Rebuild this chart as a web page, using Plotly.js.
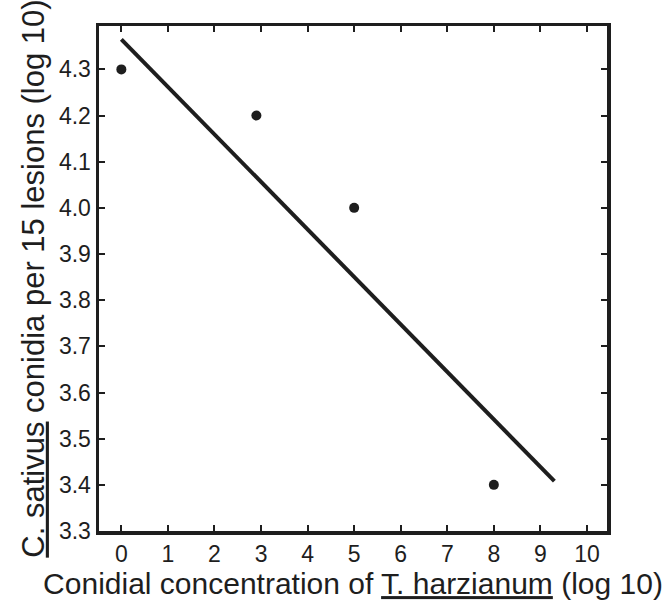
<!DOCTYPE html>
<html>
<head>
<meta charset="utf-8">
<script src="https://cdn.plot.ly/plotly-3.0.1.min.js"></script>
<style>html,body{margin:0;padding:0;background:#fff;}#chart{width:667px;height:601px;}</style>
</head>
<body>
<div id="chart"></div>
<script>
// Observed points
var concentration = [0, 2.9, 5, 8];
var conidia = [4.3, 4.2, 4.0, 3.4];
// Fitted line end points
var fitX = [0, 9.3];
var fitY = [4.365, 3.408];
// Tick labels
var xTicks = [0, 1, 2, 3, 4, 5, 6, 7, 8, 9, 10];
var yTicks = [3.3, 3.4, 3.5, 3.6, 3.7, 3.8, 3.9, 4.0, 4.1, 4.2, 4.3];

var ink = '#1e1e1e';
var font = 'Liberation Sans, Arial, Helvetica, sans-serif';

var traces = [
  {x: fitX, y: fitY, mode: 'lines', line: {color: ink, width: 4}, hoverinfo: 'skip'},
  {x: concentration, y: conidia, mode: 'markers', marker: {color: ink, size: 10}}
];

var layout = {
  width: 667, height: 601,
  margin: {l: 99, r: 60, t: 26, b: 70},
  showlegend: false,
  paper_bgcolor: '#fff', plot_bgcolor: '#fff',
  font: {family: font, color: ink},
  xaxis: {
    range: [-0.48, 10.43],
    tickvals: xTicks,
    ticktext: xTicks.map(String),
    ticks: 'inside', ticklen: 6, tickwidth: 2, tickcolor: ink,
    showline: true, linewidth: 3.5, linecolor: ink, mirror: 'ticks',
    showgrid: false, zeroline: false,
    tickfont: {size: 23, family: font, color: ink},
    title: {text: 'Conidial concentration of <u>T. harzianum</u> (log 10)', font: {size: 30, family: font, color: ink}, standoff: 4}
  },
  yaxis: {
    range: [3.3, 4.394],
    tickvals: yTicks,
    ticktext: yTicks.map(function(v){return v.toFixed(1);}),
    ticks: 'inside', ticklen: 6, tickwidth: 2, tickcolor: ink,
    showline: true, linewidth: 3.5, linecolor: ink, mirror: 'ticks',
    showgrid: false, zeroline: false,
    tickfont: {size: 23, family: font, color: ink},
    title: {text: '<u>C. sativus</u> conidia per 15 lesions (log 10)', font: {size: 31, family: font, color: ink}, standoff: 6}
  }
};

Plotly.newPlot('chart', traces, layout, {displayModeBar: false, staticPlot: true});
</script>
</body>
</html>
